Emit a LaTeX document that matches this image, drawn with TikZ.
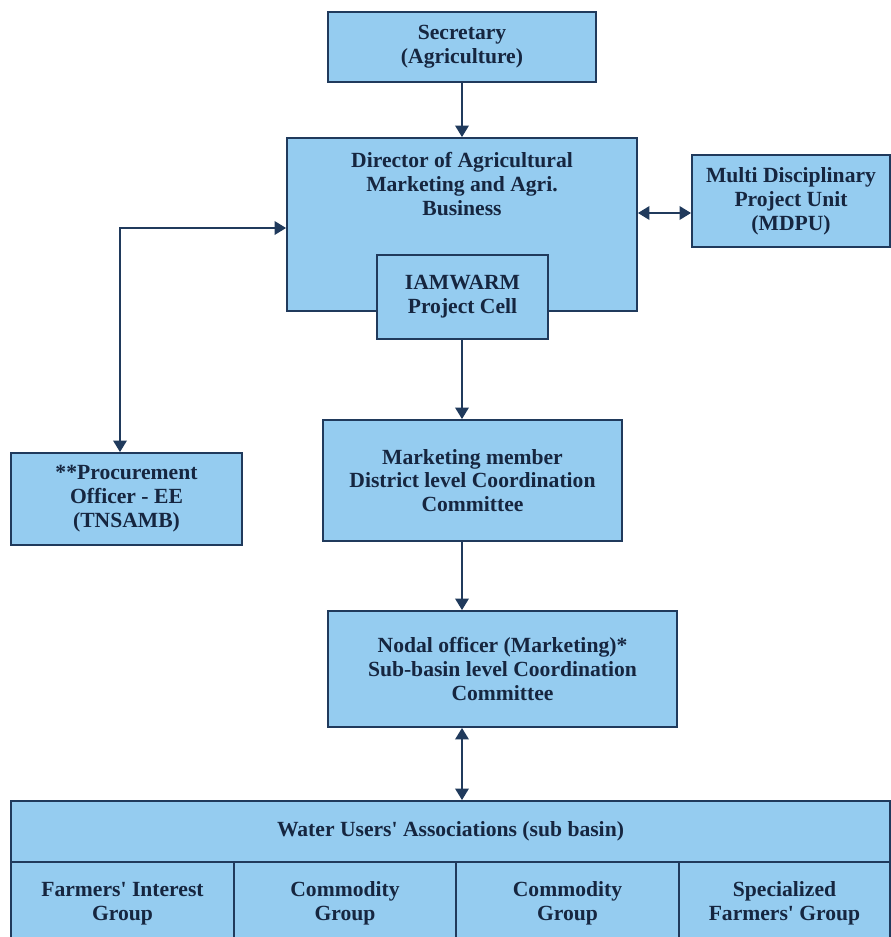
\documentclass[tikz,border=0pt]{standalone}
\usepackage{fontspec}
\setmainfont{Liberation Serif}
\usetikzlibrary{arrows.meta,calc}
\definecolor{boxfill}{RGB}{149,204,240}
\definecolor{boxline}{RGB}{32,58,92}
\definecolor{txtcol}{RGB}{22,38,64}
\tikzset{
	orgbox/.style={draw=boxline, fill=boxfill, line width=1.1pt, inner sep=0pt, align=center, text=txtcol},
	link/.style={draw=boxline, line width=1.1pt}
}
\begin{document}
\begin{tikzpicture}[x=0.02cm, y=-0.02cm, font=\fontsize{12.3}{13.6}\selectfont\bfseries, >={Triangle[length=2.3mm,width=2.7mm]}]
	\useasboundingbox (0,0) rectangle (891,937);
	% top of the chart
	\node[orgbox, minimum width=5.36cm, minimum height=1.40cm] (sec) at (462,47) {Secretary\\(Agriculture)};
	\node[orgbox, minimum width=7.00cm, minimum height=3.46cm] (dir) at (462,224.5) {};
	\node[align=center, text=txtcol] (dirtxt) at (462,184) {Director of Agricultural\\Marketing and Agri.\\Business};
	\node[orgbox, minimum width=3.42cm, minimum height=1.68cm] (cell) at (462.5,297) {IAMWARM\\Project Cell};
	\node[orgbox, minimum width=3.96cm, minimum height=1.84cm] (mdpu) at (791,201) {Multi Disciplinary\\Project Unit\\(MDPU)};
	% middle
	\node[orgbox, minimum width=4.62cm, minimum height=1.84cm] (proc) at (126.5,499) {**Procurement\\Officer - EE\\(TNSAMB)};
	\node[orgbox, minimum width=5.98cm, minimum height=2.42cm] (mkt) at (472.5,480.5) {Marketing member\\District level Coordination\\Committee};
	\node[orgbox, minimum width=6.98cm, minimum height=2.32cm] (nodal) at (502.5,669) {Nodal officer (Marketing)*\\Sub-basin level Coordination\\Committee};
	% water users' associations
	\node[orgbox, minimum width=17.58cm, minimum height=1.22cm] (wua) at (450.5,831.5) {Water Users\textquotesingle{} Associations (sub basin)};
	\node[orgbox, minimum width=4.46cm, minimum height=1.66cm] (grpa) at (122.5,903.5) {Farmers\textquotesingle{} Interest\\Group};
	\node[orgbox, minimum width=4.44cm, minimum height=1.66cm] (grpb) at (345,903.5) {Commodity\\Group};
	\node[orgbox, minimum width=4.46cm, minimum height=1.66cm] (grpc) at (567.5,903.5) {Commodity\\Group};
	\node[orgbox, minimum width=4.22cm, minimum height=1.66cm] (grpd) at (784.5,903.5) {Specialized\\Farmers\textquotesingle{} Group};
	% connectors
	\coordinate (axis) at (462,0);
	\coordinate (bend) at (120,228);
	\draw[link,->] (sec.south) -- (sec.south |- dir.north);
	\draw[link,<->] (dir.west |- bend) -- (bend) -- (bend |- proc.north);
	\draw[link,<->] ($(dir.east)+(0,-11.5)$) -- ($(mdpu.west)+(0,12)$);
	\draw[link,->] (axis |- cell.south) -- (axis |- mkt.north);
	\draw[link,->] (axis |- mkt.south) -- (axis |- nodal.north);
	\draw[link,<->] (axis |- nodal.south) -- (axis |- wua.north);
\end{tikzpicture}
\end{document}
